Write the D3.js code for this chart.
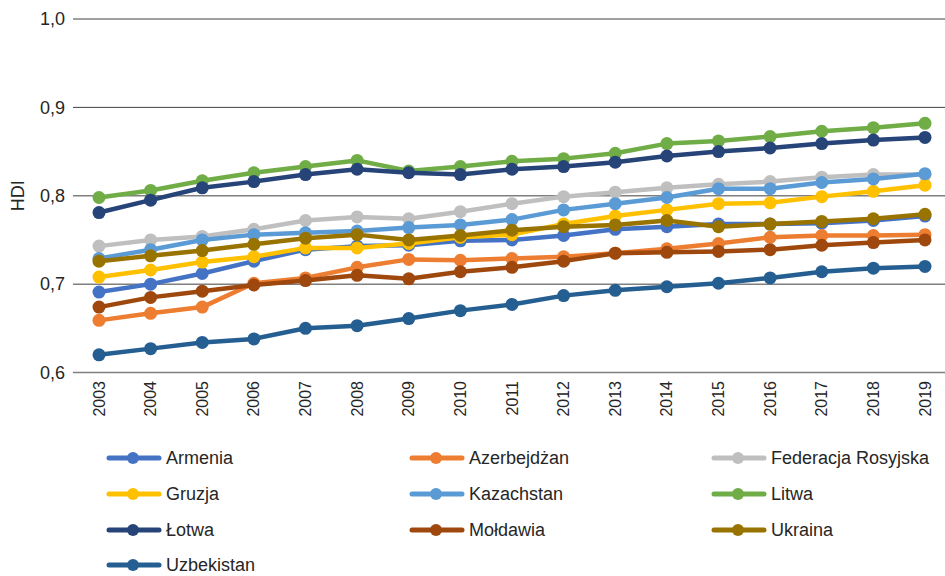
<!DOCTYPE html>
<html>
<head>
<meta charset="utf-8">
<script src="https://cdn.jsdelivr.net/npm/d3@7"></script>
<style>
  body { margin: 0; background: #fff; }
  text { font-family: "Liberation Sans", Arial, sans-serif; fill: #262626; }
</style>
</head>
<body>
<div id="chart"></div>
<script>
// Dane
const years = [2003, 2004, 2005, 2006, 2007, 2008, 2009, 2010, 2011, 2012, 2013, 2014, 2015, 2016, 2017, 2018, 2019];
const countries = ["Armenia", "Azerbejdżan", "Federacja Rosyjska", "Gruzja", "Kazachstan", "Litwa", "Łotwa", "Mołdawia", "Ukraina", "Uzbekistan"];
const colors = ["#4472c4", "#ed7d31", "#bfbfbf", "#ffc000", "#5b9bd5", "#70ad47", "#264478", "#9e480e", "#997300", "#255e91"];
const yTicks = [0.6, 0.7, 0.8, 0.9, 1.0];

const armenia = [0.691, 0.700, 0.712, 0.726, 0.739, 0.743, 0.744, 0.749, 0.750, 0.755, 0.762, 0.765, 0.768, 0.768, 0.769, 0.772, 0.777];
const azerbejdzan = [0.659, 0.667, 0.674, 0.701, 0.707, 0.719, 0.728, 0.727, 0.729, 0.731, 0.735, 0.740, 0.746, 0.753, 0.755, 0.755, 0.756];
const rosja = [0.743, 0.750, 0.754, 0.762, 0.772, 0.776, 0.774, 0.782, 0.791, 0.799, 0.804, 0.809, 0.813, 0.816, 0.821, 0.824, 0.824];
const gruzja = [0.708, 0.716, 0.725, 0.731, 0.741, 0.741, 0.746, 0.753, 0.756, 0.768, 0.777, 0.784, 0.791, 0.792, 0.799, 0.805, 0.812];
const kazachstan = [0.729, 0.739, 0.750, 0.756, 0.758, 0.760, 0.764, 0.767, 0.773, 0.784, 0.791, 0.798, 0.808, 0.808, 0.815, 0.819, 0.825];
const litwa = [0.798, 0.806, 0.817, 0.826, 0.833, 0.840, 0.828, 0.833, 0.839, 0.842, 0.848, 0.859, 0.862, 0.867, 0.873, 0.877, 0.882];
const lotwa = [0.781, 0.795, 0.809, 0.816, 0.824, 0.830, 0.826, 0.824, 0.830, 0.833, 0.838, 0.845, 0.850, 0.854, 0.859, 0.863, 0.866];
const moldawia = [0.674, 0.685, 0.692, 0.699, 0.704, 0.710, 0.706, 0.714, 0.719, 0.726, 0.735, 0.736, 0.737, 0.739, 0.744, 0.747, 0.750];
const ukraina = [0.726, 0.732, 0.738, 0.745, 0.752, 0.756, 0.750, 0.755, 0.761, 0.765, 0.767, 0.772, 0.765, 0.768, 0.771, 0.774, 0.779];
const uzbekistan = [0.620, 0.627, 0.634, 0.638, 0.650, 0.653, 0.661, 0.670, 0.677, 0.687, 0.693, 0.697, 0.701, 0.707, 0.714, 0.718, 0.720];

const values = [armenia, azerbejdzan, rosja, gruzja, kazachstan, litwa, lotwa, moldawia, ukraina, uzbekistan];

const width = 945, height = 576;

const svg = d3.select("#chart").append("svg")
  .attr("width", width)
  .attr("height", height);

const x = d3.scalePoint().domain(years).range([99, 925]);
const y = d3.scaleLinear().domain([0.6, 1.0]).range([372.5, 19]);

// siatka
svg.append("g")
  .selectAll("line")
  .data(yTicks)
  .join("line")
  .attr("x1", 73).attr("x2", width)
  .attr("y1", d => y(d)).attr("y2", d => y(d))
  .attr("stroke", (d) => d >= 0.9 ? "#404040" : "#7f7f7f")
  .attr("stroke-width", d => d >= 0.9 ? 1 : 1.5);

// etykiety osi Y
svg.append("g")
  .selectAll("text")
  .data(yTicks)
  .join("text")
  .attr("x", 65)
  .attr("y", d => y(d))
  .attr("dy", "0.35em")
  .attr("text-anchor", "end")
  .style("font-size", "18px")
  .text(d => d3.format(".1f")(d).replace(".", ","));

svg.append("text")
  .attr("transform", `translate(24,${y(0.8)}) rotate(-90)`)
  .attr("text-anchor", "middle")
  .style("font-size", "18px")
  .text("HDI");

// etykiety osi X
svg.append("g")
  .selectAll("text")
  .data(years)
  .join("text")
  .attr("transform", d => `translate(${x(d)},381) rotate(-90)`)
  .attr("dy", "0.35em")
  .attr("text-anchor", "end")
  .style("font-size", "16px")
  .text(d => d);

// linie
const line = d3.line()
  .x((d, i) => x(years[i]))
  .y(d => y(d));

countries.forEach((c, k) => {
  const g = svg.append("g");
  g.append("path")
    .datum(values[k])
    .attr("fill", "none")
    .attr("stroke", colors[k])
    .attr("stroke-width", 4.5)
    .attr("stroke-linejoin", "round")
    .attr("d", line);
  g.selectAll("circle")
    .data(values[k])
    .join("circle")
    .attr("cx", (d, i) => x(years[i]))
    .attr("cy", d => y(d))
    .attr("r", 6.5)
    .attr("fill", colors[k]);
});

// legenda
const colX = [109, 412, 714];
const rowY = [458, 494, 530, 565];
const legend = svg.append("g")
  .selectAll("g")
  .data(countries)
  .join("g")
  .attr("transform", (d, i) => `translate(${colX[i % 3]},${rowY[Math.floor(i / 3)]})`);

legend.append("line")
  .attr("x1", 0).attr("x2", 50)
  .attr("stroke", (d, i) => colors[i])
  .attr("stroke-width", 5)
  .attr("stroke-linecap", "round");
legend.append("circle")
  .attr("cx", 24)
  .attr("r", 6)
  .attr("fill", (d, i) => colors[i]);
legend.append("text")
  .attr("x", 57)
  .attr("dy", "0.35em")
  .style("font-size", "18px")
  .text(d => d);
</script>
</body>
</html>
